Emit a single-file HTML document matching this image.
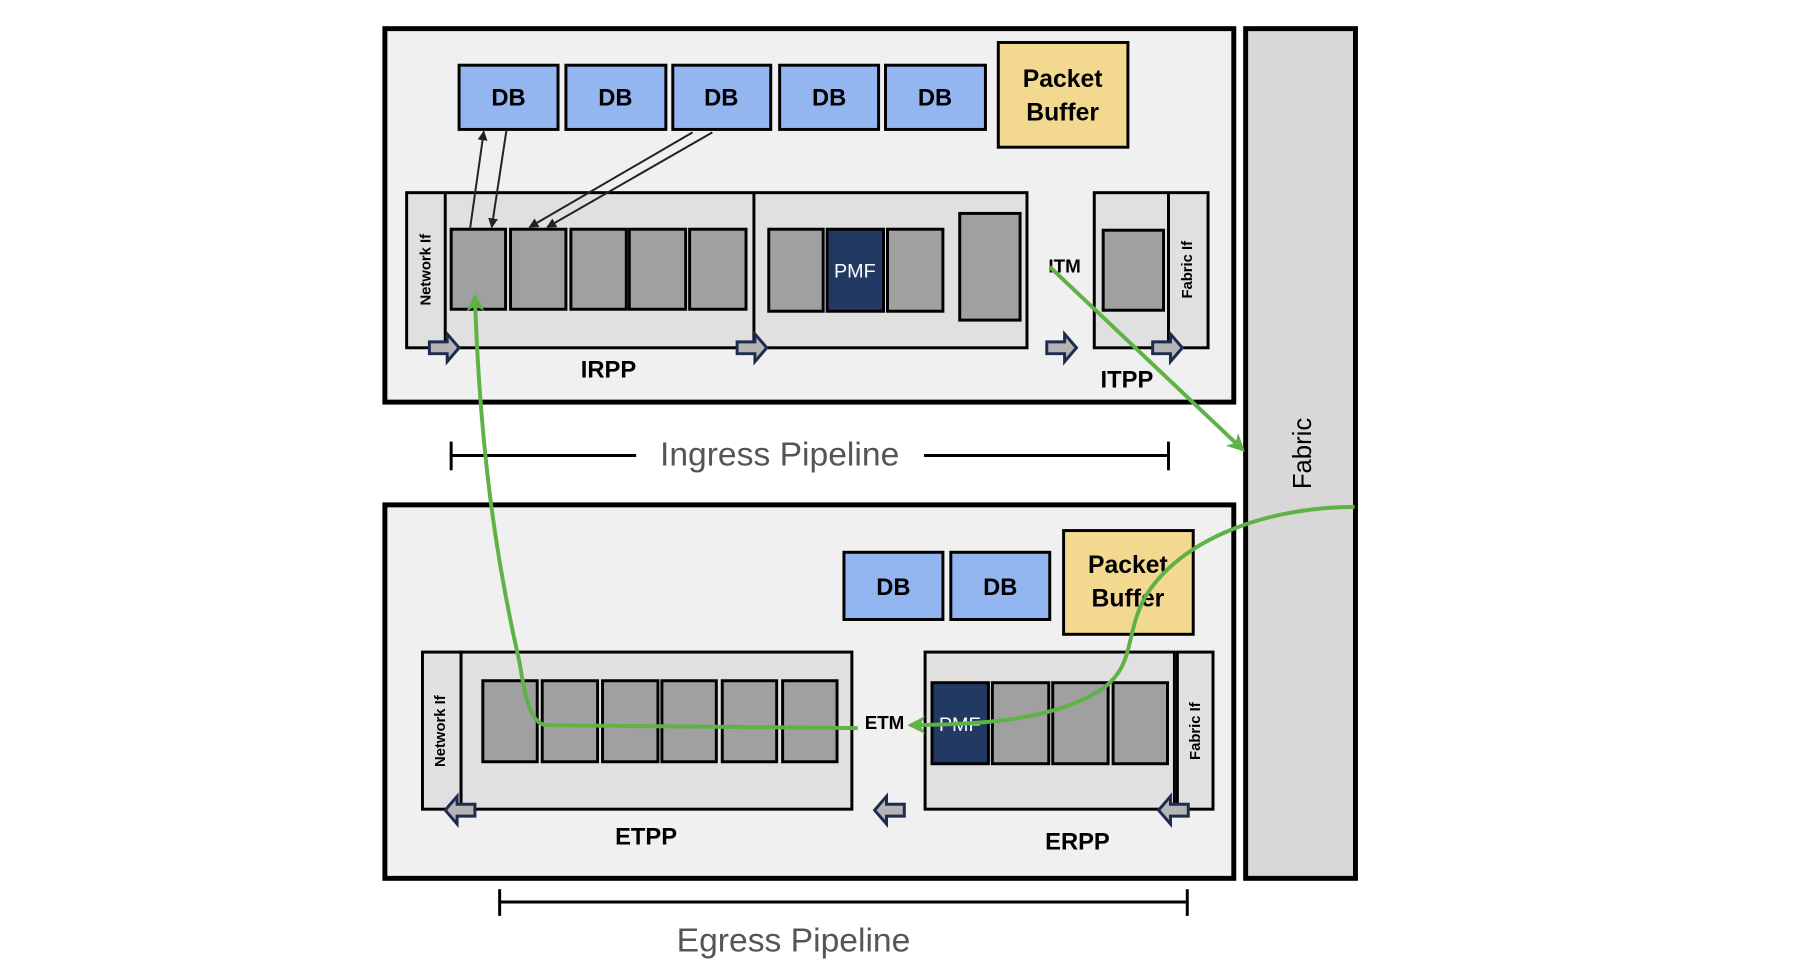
<!DOCTYPE html>
<html><head><meta charset="utf-8"><style>
html,body{margin:0;padding:0;background:#fff;}
svg{display:block;}
text{font-family:"Liberation Sans",sans-serif;}
.b{font-weight:bold;fill:#000;}
</style></head><body>
<svg width="1817" height="974" viewBox="0 0 1817 974" xmlns="http://www.w3.org/2000/svg">
<defs>
<marker id="ak" markerWidth="10" markerHeight="10" refX="9" refY="5" orient="auto" markerUnits="userSpaceOnUse"><path d="M0,0 L10,5 L0,10 z" fill="#222"/></marker>
<marker id="ag" markerWidth="18" markerHeight="18" refX="15" refY="9" orient="auto" markerUnits="userSpaceOnUse"><path d="M0,0 L18,9 L0,18 L5,9 z" fill="#5fb246"/></marker>
<g id="ar"><path d="M0,-6 L18,-6 L18,-14 L30,0 L18,14 L18,6 L0,6 z" fill="#b5b5b5" stroke="#1d2b4f" stroke-width="3"/></g>
</defs>
<g transform="scale(0.9894 0.988)">
<rect x="389" y="29" width="858" height="378" fill="#f0f0f0" stroke="#000" stroke-width="5"/>
<rect x="1259" y="29" width="111" height="860" fill="#d8d8d8" stroke="#000" stroke-width="5"/>
<text x="1325" y="459" font-size="26" transform="rotate(-90 1325 459)" text-anchor="middle" fill="#000">Fabric</text>
<rect x="389" y="511" width="858" height="378" fill="#f0f0f0" stroke="#000" stroke-width="5"/>

<g stroke="#000" stroke-width="3" fill="#93b6f1">
<rect x="464" y="66" width="100" height="65"/><rect x="572" y="66" width="101" height="65"/><rect x="680" y="66" width="99" height="65"/><rect x="788" y="66" width="100" height="65"/><rect x="895" y="66" width="101" height="65"/>
</g>
<g class="b" font-size="24" text-anchor="middle">
<text x="514" y="107">DB</text><text x="622" y="107">DB</text><text x="729" y="107">DB</text><text x="838" y="107">DB</text><text x="945" y="107">DB</text>
</g>
<rect x="1009" y="43" width="131" height="106" fill="#f3d98f" stroke="#000" stroke-width="3"/>
<text class="b" x="1074" y="88" font-size="25" text-anchor="middle">Packet</text>
<text class="b" x="1074" y="122" font-size="25" text-anchor="middle">Buffer</text>

<rect x="411" y="195" width="627" height="157" fill="#e0e0e0" stroke="#000" stroke-width="3"/>
<line x1="450" y1="195" x2="450" y2="352" stroke="#000" stroke-width="3"/>
<line x1="762" y1="195" x2="762" y2="352" stroke="#000" stroke-width="3"/>
<text class="b" x="435" y="273" font-size="15" transform="rotate(-90 435 273)" text-anchor="middle">Network If</text>
<g stroke="#000" stroke-width="3" fill="#a0a0a0">
<rect x="456" y="232" width="55" height="81"/><rect x="516" y="232" width="56" height="81"/><rect x="577" y="232" width="56" height="81"/><rect x="636" y="232" width="57" height="81"/><rect x="697" y="232" width="57" height="81"/>
<rect x="777" y="232" width="55" height="83"/><rect x="836" y="232" width="57" height="83" fill="#223a63"/><rect x="897" y="232" width="56" height="83"/>
<rect x="970" y="216" width="61" height="108"/>
</g>
<text x="864" y="281" font-size="20" fill="#fff" text-anchor="middle">PMF</text>
<text class="b" x="1076" y="276" font-size="19" text-anchor="middle">ITM</text>
<rect x="1106" y="195" width="115" height="157" fill="#e0e0e0" stroke="#000" stroke-width="3"/>
<line x1="1181" y1="195" x2="1181" y2="352" stroke="#000" stroke-width="3"/>
<rect x="1115" y="233" width="61" height="81" fill="#a0a0a0" stroke="#000" stroke-width="3"/>
<text class="b" x="1205" y="273" font-size="15" transform="rotate(-90 1205 273)" text-anchor="middle">Fabric If</text>
<use href="#ar" x="434" y="352"/><use href="#ar" x="745" y="352"/><use href="#ar" x="1058" y="352"/><use href="#ar" x="1165" y="352"/>
<text class="b" x="615" y="382" font-size="24" text-anchor="middle">IRPP</text>
<text class="b" x="1139" y="392" font-size="24" text-anchor="middle">ITPP</text>

<g stroke="#000" stroke-width="3"><line x1="456" y1="461" x2="643" y2="461"/><line x1="934" y1="461" x2="1181" y2="461"/><line x1="456" y1="447" x2="456" y2="476"/><line x1="1181" y1="447" x2="1181" y2="476"/></g>
<text x="788" y="471" font-size="34" fill="#555" text-anchor="middle">Ingress Pipeline</text>

<g stroke="#000" stroke-width="3" fill="#93b6f1"><rect x="853" y="559" width="100" height="68"/><rect x="961" y="559" width="100" height="68"/></g>
<text class="b" x="903" y="602" font-size="24" text-anchor="middle">DB</text><text class="b" x="1011" y="602" font-size="24" text-anchor="middle">DB</text>
<rect x="1075" y="537" width="131" height="105" fill="#f3d98f" stroke="#000" stroke-width="3"/>
<text class="b" x="1140" y="580" font-size="25" text-anchor="middle">Packet</text>
<text class="b" x="1140" y="614" font-size="25" text-anchor="middle">Buffer</text>

<rect x="427" y="660" width="39" height="159" fill="#e0e0e0" stroke="#000" stroke-width="3"/>
<rect x="466" y="660" width="395" height="159" fill="#e0e0e0" stroke="#000" stroke-width="3"/>
<text class="b" x="450" y="740" font-size="15" transform="rotate(-90 450 740)" text-anchor="middle">Network If</text>
<g stroke="#000" stroke-width="3" fill="#a0a0a0">
<rect x="488" y="689" width="55" height="82"/><rect x="548" y="689" width="56" height="82"/><rect x="609" y="689" width="56" height="82"/><rect x="669" y="689" width="55" height="82"/><rect x="730" y="689" width="55" height="82"/><rect x="791" y="689" width="55" height="82"/>
</g>
<text class="b" x="894" y="738" font-size="19" text-anchor="middle">ETM</text>
<rect x="935" y="660" width="252" height="159" fill="#e0e0e0" stroke="#000" stroke-width="3"/>
<rect x="1190" y="660" width="36" height="159" fill="#e0e0e0" stroke="#000" stroke-width="3"/>
<text class="b" x="1213" y="740" font-size="15" transform="rotate(-90 1213 740)" text-anchor="middle">Fabric If</text>
<g stroke="#000" stroke-width="3" fill="#a0a0a0">
<rect x="942" y="691" width="57" height="82" fill="#223a63"/><rect x="1003" y="691" width="57" height="82"/><rect x="1064" y="691" width="56" height="82"/><rect x="1125" y="691" width="55" height="82"/>
</g>
<text x="970" y="740" font-size="20" fill="#fff" text-anchor="middle">PMF</text>
<g transform="rotate(180)"><use href="#ar" x="-480" y="-820"/><use href="#ar" x="-914" y="-820"/><use href="#ar" x="-1201" y="-820"/></g>
<text class="b" x="653" y="855" font-size="24" text-anchor="middle">ETPP</text>
<text class="b" x="1089" y="860" font-size="24" text-anchor="middle">ERPP</text>

<g stroke="#000" stroke-width="3"><line x1="505" y1="913" x2="1200" y2="913"/><line x1="505" y1="900" x2="505" y2="927"/><line x1="1200" y1="900" x2="1200" y2="927"/></g>
<text x="802" y="963" font-size="34" fill="#555" text-anchor="middle">Egress Pipeline</text>

<g stroke="#222" stroke-width="2" fill="none">
<line x1="475" y1="232" x2="489" y2="133" marker-end="url(#ak)"/>
<line x1="512" y1="131" x2="497" y2="230" marker-end="url(#ak)"/>
<line x1="700" y1="134" x2="535" y2="230" marker-end="url(#ak)"/>
<line x1="720" y1="134" x2="553" y2="230" marker-end="url(#ak)"/>
</g>
<g stroke="#5fb246" stroke-width="4" fill="none">
<path d="M1061,270 L1256,455" marker-end="url(#ag)"/>
<path d="M1369,513 C1290,513 1200,540 1160,600 C1135,640 1150,675 1110,700 C1060,730 990,733 920,734" marker-end="url(#ag)"/>
<path d="M867,737 L553,734 C535,734 530,700 525,670 C500,560 485,450 480,300" marker-end="url(#ag)"/>
</g>
</g>
</svg>
</body></html>
